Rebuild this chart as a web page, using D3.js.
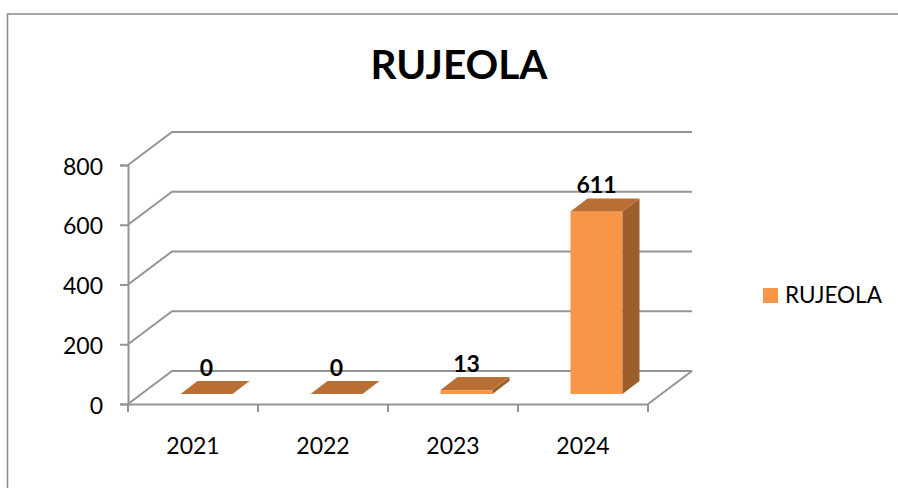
<!DOCTYPE html>
<html>
<head>
<meta charset="utf-8">
<script src="https://cdn.jsdelivr.net/npm/d3@7"></script>
<style>
  html, body { margin: 0; padding: 0; background: #fff; }
  text { font-family: Lato, sans-serif; fill: #000; }
</style>
</head>
<body>
<div id="grafica"></div>
<script>
  const width = 898, height = 488;

  const categorias = ["2021", "2022", "2023", "2024"];
  const valores = [0, 0, 13, 611];
  const ticksY = [0, 200, 400, 600, 800];
  const titulo = "RUJEOLA";
  const serie = "RUJEOLA";

  const frente = "#f79646", arriba = "#b96f34", lado = "#9c5f2c", gris = "#949494";

  // profundidad del piso 3D
  const fondoX = 44, fondoY = -33;
  const barraX = 13.5, barraY = -10;
  const largoX = 17, largoY = -13;

  const x = d3.scaleBand().domain(categorias).range([128, 648]).paddingInner(0.6).paddingOuter(0.3);
  const xEje = d3.scaleBand().domain(categorias).range([128, 648]);
  const y = d3.scaleLinear().domain([0, 800]).range([404, 165]);

  const svg = d3.select("#grafica").append("svg")
    .attr("width", width)
    .attr("height", height)
    .style("display", "block");

  // Marco exterior
  svg.append("path")
    .attr("d", `M7.5,${height} V14 H${width}`)
    .attr("fill", "none")
    .attr("stroke", "#8c8c8c")
    .attr("stroke-width", 1.5);

  svg.append("text")
    .attr("x", 459)
    .attr("y", 79)
    .attr("text-anchor", "middle")
    .attr("font-size", 40.5)
    .attr("font-weight", 700)
    .text(titulo);

  // Rejilla: diagonal en la pared lateral y linea en la pared de fondo
  const rejilla = svg.append("g")
    .attr("fill", "none")
    .attr("stroke", gris)
    .attr("stroke-width", 2);

  rejilla.selectAll("path.grid")
    .data(ticksY)
    .enter()
    .append("path")
    .attr("class", "grid")
    .attr("d", d => `M128,${y(d)} L${128 + fondoX},${y(d) + fondoY} H${648 + fondoX}`);

  // Borde derecho del piso
  rejilla.append("path")
    .attr("d", `M648,${y(0)} L${648 + fondoX},${y(0) + fondoY}`);

  // Ejes
  const ejeY = svg.append("g")
    .attr("transform", "translate(128,0)")
    .call(d3.axisLeft(y).tickValues(ticksY).tickSize(8).tickPadding(17));

  const ejeX = svg.append("g")
    .attr("transform", `translate(0,${y(0)})`)
    .call(d3.axisBottom(xEje).tickSize(0).tickPadding(34));

  // marcas entre categorias
  ejeX.selectAll("line.corte")
    .data(d3.range(categorias.length + 1))
    .enter()
    .append("line")
    .attr("class", "corte")
    .attr("x1", i => 128 + i * xEje.step())
    .attr("x2", i => 128 + i * xEje.step())
    .attr("y1", 0)
    .attr("y2", 8)
    .attr("stroke", gris)
    .attr("stroke-width", 2);

  [ejeY, ejeX].forEach(eje => {
    eje.selectAll(".domain, .tick line").attr("stroke", gris).attr("stroke-width", 2);
    eje.selectAll("text").attr("font-size", 23).attr("font-family", "Lato, sans-serif").attr("fill", "#000");
  });
  ejeY.selectAll("text").attr("dy", "0.4em");

  // Barras 3D
  const barras = svg.selectAll("g.barra")
    .data(categorias.map((c, i) => ({ c, v: valores[i] })))
    .enter()
    .append("g")
    .attr("class", "barra")
    .attr("transform", `translate(${barraX},${barraY})`);

  barras.append("rect")
    .attr("x", d => x(d.c))
    .attr("y", d => y(d.v))
    .attr("width", x.bandwidth())
    .attr("height", d => y(0) - y(d.v))
    .attr("fill", frente);

  barras.append("path")
    .attr("fill", lado)
    .attr("d", d => {
      const xd = x(d.c) + x.bandwidth();
      return `M${xd},${y(d.v)} l${largoX},${largoY} V${y(0) + largoY} L${xd},${y(0)} Z`;
    });

  barras.append("path")
    .attr("fill", arriba)
    .attr("d", d => `M${x(d.c)},${y(d.v)} l${largoX},${largoY} h${x.bandwidth()} l${-largoX},${-largoY} Z`);

  barras.append("text")
    .attr("x", d => x(d.c) + x.bandwidth() / 2)
    .attr("y", d => y(d.v) + largoY - 5)
    .attr("text-anchor", "middle")
    .attr("font-size", 23)
    .attr("font-weight", 700)
    .text(d => d.v);

  // Leyenda
  svg.append("rect")
    .attr("x", 763)
    .attr("y", 288)
    .attr("width", 15)
    .attr("height", 15)
    .attr("fill", frente);

  svg.append("text")
    .attr("x", 785)
    .attr("y", 303)
    .attr("font-size", 22.5)
    .text(serie);
</script>
</body>
</html>
